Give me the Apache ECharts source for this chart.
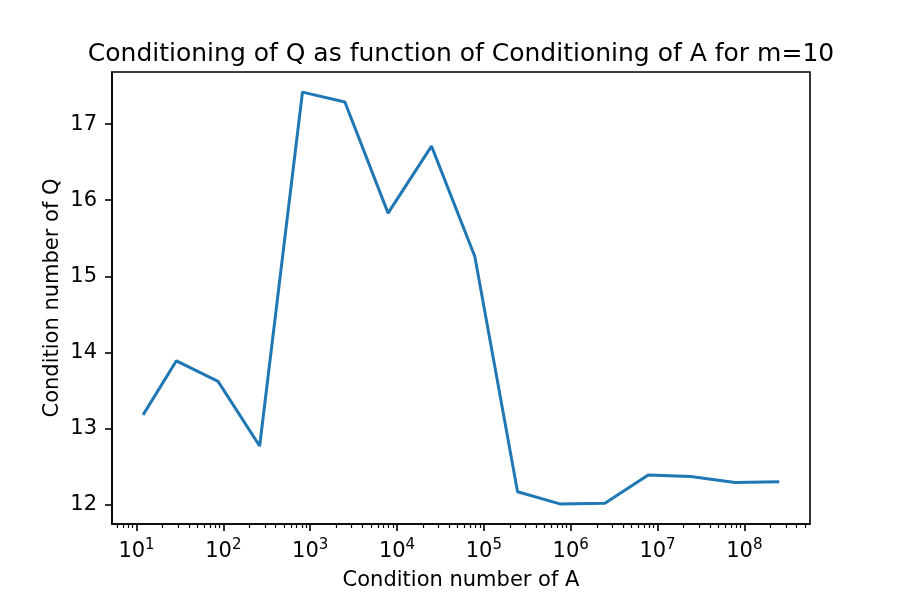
<!DOCTYPE html>
<html>
<head>
<meta charset="utf-8">
<script src="https://cdn.jsdelivr.net/npm/echarts@6/dist/echarts.min.js"></script>
<style>
  html, body { margin: 0; padding: 0; background: #fff; }
  #chart { width: 900px; height: 600px; }
</style>
</head>
<body>
<div id="chart"></div>
<script>
// condition number of A (x, log scale) and of Q (y)
const condA = [11.9, 28.8, 86.9, 262, 815, 2510, 7890, 24950, 78700,
  244300, 751600, 2477000, 7816000, 24040000, 77980000, 252300000]
const condQ = [13.18, 13.89, 13.62, 12.77, 17.42, 17.29, 15.83, 16.71, 15.26,
  12.17, 12.01, 12.02, 12.39, 12.37, 12.29, 12.30]
const xMajorTicks = [10, 100, 1e3, 1e4, 1e5, 1e6, 1e7, 1e8]
const yTicks = [12, 13, 14, 15, 16, 17]

const xMin = 5.22
const xMax = 5.7e8

// minor ticks at 2..9 x 10^n
let xMinorTicks = []
for (let n = 0; n <= 8; n++) {
  for (let k = 2; k <= 9; k++) {
    let v = k * Math.pow(10, n)
    if (v >= xMin && v <= xMax) xMinorTicks.push(v)
  }
}

const font = 'DejaVu Sans'
let chart = echarts.init(document.getElementById('chart'))
chart.setOption({
  animation: false,
  backgroundColor: '#fff',
  title: {
    text: 'Conditioning of Q as function of Conditioning of A for m=10',
    left: 456,
    textAlign: 'center',
    top: 37,
    textStyle: { fontFamily: font, fontSize: 25, fontWeight: 'normal', color: '#000' },
  },
  grid: {
    left: 112, right: 90, top: 72, bottom: 76,
    show: true, borderColor: '#000', borderWidth: 1.6,
  },
  xAxis: [
    {
      type: 'log',
      min: xMin,
      max: xMax,
      name: 'Condition number of A',
      nameLocation: 'middle',
      nameGap: 46,
      nameTextStyle: { fontFamily: font, fontSize: 21, color: '#000' },
      axisLine: { show: true, lineStyle: { color: '#000', width: 1.6 } },
      axisTick: { show: true, length: 7, lineStyle: { color: '#000', width: 1.6 }, customValues: xMajorTicks },
      axisLabel: {
        customValues: xMajorTicks,
        margin: 14,
        formatter: function (v) {
          return '{b|10}{s|' + Math.round(Math.log10(v)) + '}'
        },
        rich: {
          b: { fontFamily: font, fontSize: 21, color: '#000' },
          s: { fontFamily: font, fontSize: 15, color: '#000', verticalAlign: 'bottom', padding: [0, 0, 12, 0] },
        },
      },
      splitLine: { show: false },
    },
    {
      // minor ticks only
      type: 'log',
      min: xMin,
      max: xMax,
      position: 'bottom',
      axisLine: { show: false },
      axisTick: { show: true, length: 4, lineStyle: { color: '#000', width: 1.2 }, customValues: xMinorTicks },
      axisLabel: { show: false },
      splitLine: { show: false },
    },
  ],
  yAxis: {
    type: 'value',
    min: 11.746,
    max: 17.684,
    name: 'Condition number of Q',
    nameLocation: 'middle',
    nameGap: 49,
    nameMoveOverlap: false,
    nameTextStyle: { fontFamily: font, fontSize: 21, color: '#000' },
    axisLine: { show: true, lineStyle: { color: '#000', width: 1.6 } },
    axisTick: { show: true, length: 7, lineStyle: { color: '#000', width: 1.6 }, customValues: yTicks },
    axisLabel: { customValues: yTicks, margin: 15, fontFamily: font, fontSize: 21, color: '#000' },
    splitLine: { show: false },
  },
  series: [
    {
      type: 'line',
      xAxisIndex: 0,
      data: condA.map((a, i) => [a, condQ[i]]),
      showSymbol: false,
      lineStyle: { color: '#1f77b4', width: 3 },
    },
  ],
})
</script>
</body>
</html>
